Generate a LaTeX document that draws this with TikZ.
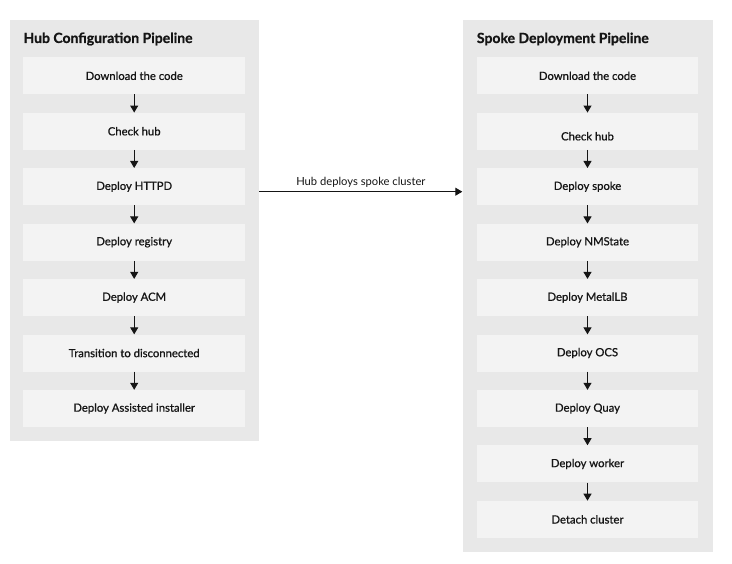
\documentclass[tikz,border=0pt]{standalone}
\usepackage{fontspec}
\setmainfont{Lato}
\newfontfamily\medfont{Lato}[FakeBold=0.9]
\newfontfamily\titlefont{Lato Bold}[FakeBold=0.9]
\usetikzlibrary{arrows.meta}
\definecolor{panelc}{HTML}{E8E8E8}
\definecolor{boxc}{HTML}{F3F3F3}
\definecolor{ink}{HTML}{151515}
\tikzset{
  panelbox/.style={fill=panelc, draw=none, anchor=north west, inner sep=0pt},
  steptext/.style={font=\medfont\fontsize{11.3}{13}\selectfont, text=ink},
  stepbox/.style={steptext, fill=boxc, draw=none, minimum width=221.7pt, minimum height=37pt, inner sep=0pt},
  titlenode/.style={anchor=west, inner sep=0pt, font=\titlefont\fontsize{14}{16}\selectfont, text=ink},
  flow/.style={draw=ink, line width=1pt, -{Triangle[length=7pt,width=8pt]}},
}
\begin{document}
\begin{tikzpicture}[x=1pt,y=-1pt]
\useasboundingbox (0,0) rectangle (732,564);
\fill[white] (0,0) rectangle (732,564);
% panels
\node[panelbox, minimum width=249.5pt, minimum height=420.7pt] (hubpanel) at (9.5,20) {};
\node[panelbox, minimum width=250pt, minimum height=531.7pt] (spokepanel) at (462.3,20) {};
\node[titlenode] (hubtitle) at (23.3,39) {Hub Configuration Pipeline};
\node[titlenode] (spoketitle) at (476.7,39) {Spoke Deployment Pipeline};
% hub steps
\foreach \t [count=\i] in {Download the code, Check hub, Deploy HTTPD, Deploy registry, Deploy ACM, Transition to disconnected, Deploy Assisted installer}
  \node[stepbox] (h\i) at (134.2, {75.8+(\i-1)*55.45}) {\t};
\foreach \i in {1,...,6}{
  \pgfmathtruncatemacro\j{\i+1}
  \draw[flow] (h\i.south) -- (h\j.north);
}
% spoke steps
\foreach \t [count=\i] in {Download the code, {}, Deploy spoke, Deploy NMState, Deploy MetalLB, Deploy OCS, Deploy Quay, Deploy worker, Detach cluster}
  \node[stepbox] (s\i) at (587.5, {75.8+(\i-1)*55.45}) {\t};
\node[steptext, inner sep=0pt] (s2text) at ([yshift=-5pt]s2.center) {Check hub};
\foreach \i in {1,...,8}{
  \pgfmathtruncatemacro\j{\i+1}
  \draw[flow] (s\i.south) -- (s\j.north);
}
% cross arrow
\draw[flow] ([yshift=-5pt]hubpanel.east |- h3) -- node[above=4pt, font=\fontsize{11.2}{13}\selectfont, text=ink, inner sep=0pt] (crosslabel) {Hub deploys spoke cluster} ([yshift=-5pt]spokepanel.west |- h3);
\end{tikzpicture}
\end{document}
